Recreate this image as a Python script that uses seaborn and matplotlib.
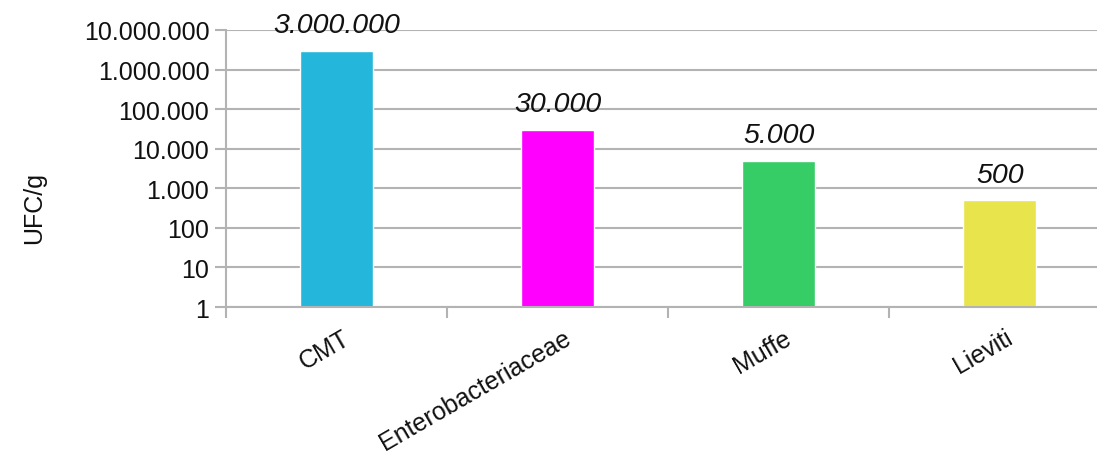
import matplotlib
matplotlib.use("Agg")
import matplotlib.pyplot as plt
import matplotlib.ticker as mticker
import matplotlib.transforms as mtransforms
import seaborn as sns
import pandas as pd

categories = ["CMT", "Enterobacteriaceae", "Muffe", "Lieviti"]
values = [3000000, 30000, 5000, 500]
colors = ["#25B7DB", "#FF00FF", "#36CC66", "#E8E44C"]
y_label = "UFC/g"

sns.set_style("white")
plt.rcParams["font.family"] = ["Liberation Sans", "DejaVu Sans"]


def it_format(v):
    return f"{int(round(v)):,}".replace(",", ".")


df = pd.DataFrame({"cat": categories, "val": values})

fig = plt.figure(figsize=(10.97, 4.60), dpi=100)
ax = fig.add_axes([226 / 1097, 152 / 460, 871 / 1097, 277 / 460])

sns.barplot(data=df, x="cat", y="val", hue="cat", palette=colors,
            width=0.33, legend=False, ax=ax, saturation=1)
ax.set_yscale("log")

ax.set_ylim(1, 1e7)
ax.set_xlim(-0.5, 3.44)
ax.yaxis.set_major_locator(mticker.LogLocator(base=10, numticks=20))
ax.yaxis.set_minor_locator(mticker.NullLocator())
ax.yaxis.set_major_formatter(mticker.FuncFormatter(lambda v, p: it_format(v)))

grid_c = "#B3B3B3"
ax.grid(axis="y", color=grid_c, linewidth=1.5)
ax.set_axisbelow(True)
for s in ["top", "right"]:
    ax.spines[s].set_visible(False)
for s in ["left", "bottom"]:
    ax.spines[s].set_color(grid_c)
    ax.spines[s].set_linewidth(1.5)

ax.tick_params(axis="y", length=8, width=1.5, color=grid_c, labelsize=18,
               labelcolor="#111111", pad=4, left=True)

# category boundary ticks under the axis
ax.set_xticks([-0.5, 0.5, 1.5, 2.5], minor=True)
ax.tick_params(axis="x", which="minor", length=8, width=1.5, color=grid_c,
               bottom=True)
ax.tick_params(axis="x", which="major", length=0, labelsize=18,
               labelcolor="#111111", pad=13)
ax.set_xticks(range(len(categories)))
ax.set_xticklabels(categories, rotation=30, ha="right",
                   rotation_mode="anchor")
shift = mtransforms.ScaledTranslation(5 / 100, 0, fig.dpi_scale_trans)
for lab in ax.get_xticklabels():
    lab.set_transform(lab.get_transform() + shift)

ax.set_xlabel("")
ax.set_ylabel(y_label, fontsize=18, color="#111111")
ax.yaxis.set_label_coords(-0.207, 0.36)

for cont in ax.containers:
    ax.bar_label(cont, labels=[it_format(v) for v in cont.datavalues],
                 padding=9, fontsize=20.5, style="italic", color="#111111",
                 clip_on=False)

fig.savefig("out.png", dpi=100)
